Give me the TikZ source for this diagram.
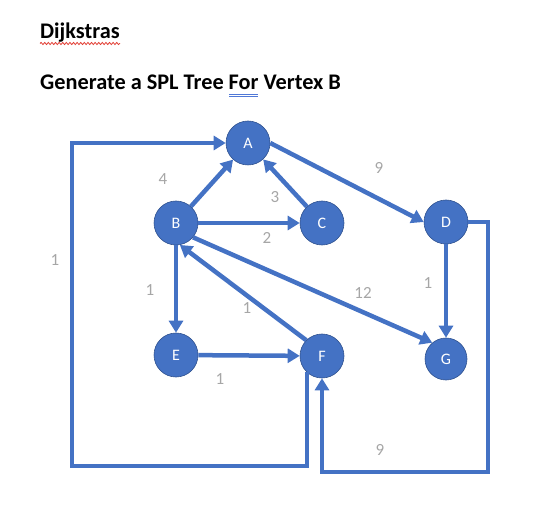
\documentclass[tikz,border=0pt]{standalone}
\usepackage{fontspec}
\setmainfont{Carlito}
\usetikzlibrary{arrows.meta,decorations.pathmorphing}
\definecolor{vblue}{RGB}{68,114,196}
\definecolor{vborder}{RGB}{47,82,143}
\definecolor{wgray}{RGB}{166,166,166}
\definecolor{ulblue}{RGB}{80,120,215}
\definecolor{spellred}{RGB}{225,60,50}
\begin{document}
\begin{tikzpicture}[x=1pt,y=-1pt,
  vert/.style={circle,fill=vblue,draw=vborder,line width=0.6pt,minimum size=44pt,inner sep=0pt,text=white,font=\fontsize{16}{16}\selectfont},
  edge/.style={draw=vblue,line width=4.5pt,-{Triangle[length=12pt,width=14pt]}},
  wlabel/.style={text=wgray,font=\fontsize{17}{17}\selectfont,inner sep=0pt},
  title/.style={font=\fontsize{22.3}{23}\selectfont\bfseries,anchor=base west,inner sep=0pt}]
\useasboundingbox (0,0) rectangle (560,505);
% titles
\node[title] (t1) at (40,39) {Dijkstras};
\node[title] (t2) at (40,90) {Generate a SPL Tree For Vertex B};
\draw[spellred,line width=0.8pt,decorate,decoration={snake,amplitude=1.1pt,segment length=3.6pt}] (40,43.5) -- (120,43.5);
\draw[ulblue,line width=0.9pt] (229,94) -- (258,94) (229,96.8) -- (258,96.8);
% vertices
\node[vert] (A) at (248,143) {A};
\node[vert] (B) at (176,223) {B};
\node[vert] (C) at (322,223) {C};
\node[vert] (D) at (446,222) {D};
\node[vert] (E) at (176,355) {E};
\node[vert] (F) at (322,356) {F};
\node[vert,minimum size=42pt] (G) at (446,359) {G};
\coordinate (lb) at (72,466);
\coordinate (rb) at (488,472);
% edges
\draw[edge] (B) -- (A);
\draw[edge] (C) -- (A);
\draw[edge] (B) -- (C);
\draw[edge] (A.east) -- (D.west);
\draw[edge] (D) -- (G);
\draw[edge] (B) -- (E);
\draw[edge] (E) -- (F);
\draw[edge] (F.135) -- (B.-80);
\draw[edge] (B.-40) -- (G.130);
\draw[edge] (F.-133) |- (lb) |- (A.west);
\draw[edge] (D.east) -| (rb) -| (F.south);
% weights
\node[wlabel] (w4) at (163,179) {4};
\node[wlabel] (w3) at (275,197) {3};
\node[wlabel] (w2) at (267,238) {2};
\node[wlabel] (w1a) at (55,260) {1};
\node[wlabel] (w9a) at (379,168) {9};
\node[wlabel] (w1b) at (428,283) {1};
\node[wlabel] (w12) at (363,293) {12};
\node[wlabel] (w1c) at (150,290) {1};
\node[wlabel] (w1d) at (247,308) {1};
\node[wlabel] (w1e) at (220,379) {1};
\node[wlabel] (w9b) at (380,450) {9};
\end{tikzpicture}
\end{document}
